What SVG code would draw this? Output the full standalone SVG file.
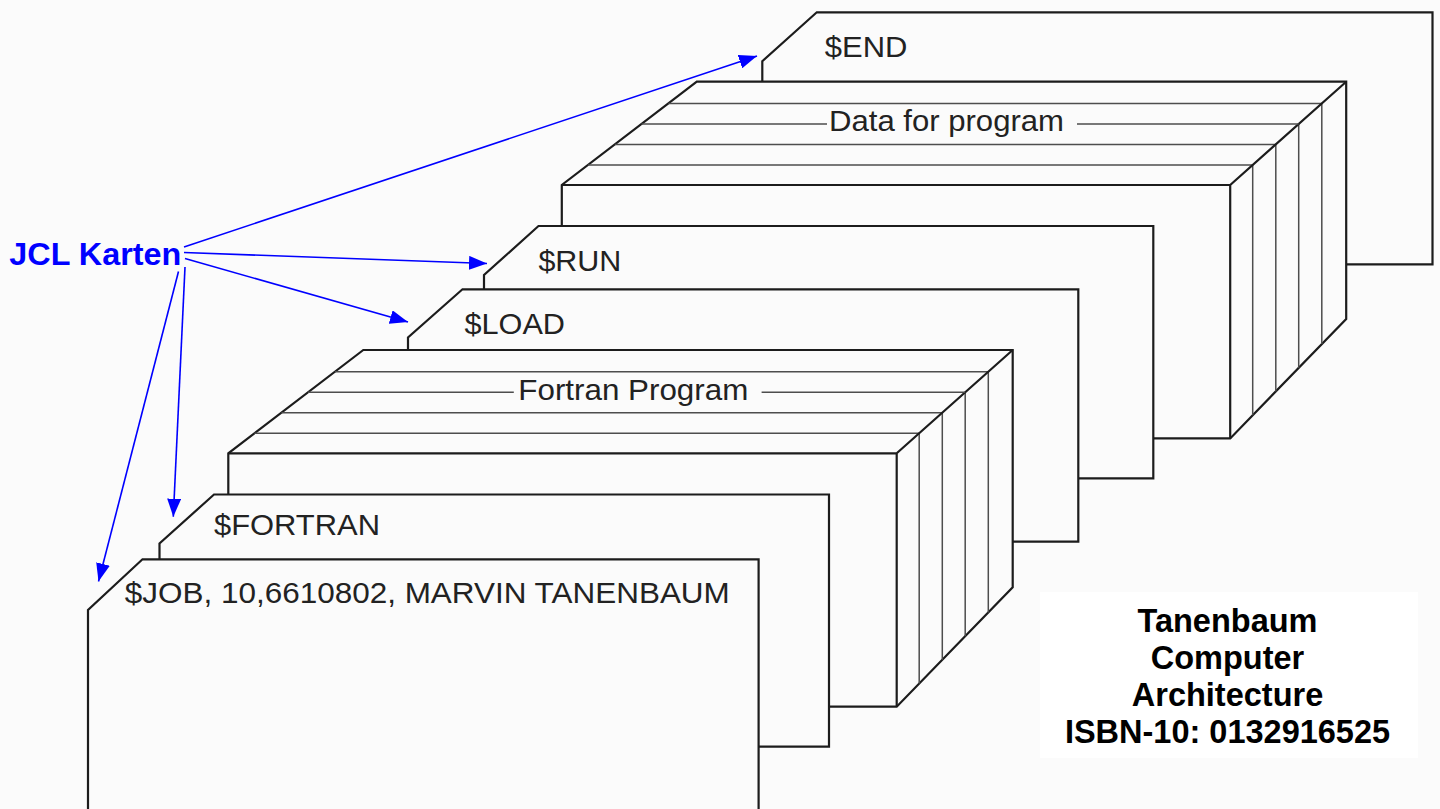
<svg xmlns="http://www.w3.org/2000/svg" width="1440" height="809" viewBox="0 0 1440 809">
  <defs>
    <style>
      .card{fill:#fbfbfb;stroke:#1c1c1c;stroke-width:2.2;stroke-linejoin:miter}
      .edge{fill:none;stroke:#1c1c1c;stroke-width:2.2}
      .ply{fill:none;stroke:#4d4d4d;stroke-width:1.5}
      .lbl{font-family:"Liberation Sans",Arial,sans-serif;font-size:29px;fill:#222}
      .jcl{font-family:"Liberation Sans",Arial,sans-serif;font-size:32px;font-weight:bold;fill:#0000ff}
      .book{font-family:"Liberation Sans",Arial,sans-serif;font-size:32.5px;font-weight:bold;fill:#000;text-anchor:middle}
      .arrow{fill:none;stroke:#0000ff;stroke-width:1.6;marker-end:url(#head)}
    </style>
    <marker id="head" viewBox="0 0 18 14" refX="18" refY="7" markerWidth="18" markerHeight="14" markerUnits="userSpaceOnUse" orient="auto">
      <path d="M0,0 L18,7 L0,14 Z" fill="#0000ff"/>
    </marker>
    <!-- a stack of punched cards seen in perspective: front face, top face, right face -->
    <g id="deck">
      <polygon class="card" points="228.3,706.7 228.3,453.3 363.3,350 1012.7,350 1012.7,587.3 896.7,706.7"/>
      <path class="ply" d="M334.9,371.7H988.3 M281.4,412.7H942.3 M254.4,433.3H919.2
                           M988.3,371.7V612.4 M965.2,392.3V636.2 M942.3,412.7V659.8 M919.2,433.3V683.5"/>
      <path class="edge" d="M228.3,453.3H896.7V706.7 M896.7,453.3L1012.7,350"/>
    </g>
  </defs>

  <rect width="1440" height="809" fill="#fbfbfb"/>

  <!-- back to front -->
  <g id="card-end">
    <path class="card" d="M762.3,264.3V61.3L816.8,12.3H1432.5V264.3Z"/>
    <text class="lbl" x="824.8" y="56.7" textLength="82.6" lengthAdjust="spacingAndGlyphs">$END</text>
  </g>

  <g id="deck-data">
    <use href="#deck" transform="translate(333.5,-268.3)"/>
    <path class="ply" d="M641.5,124H827 M1077,124H1298.7"/>
    <text class="lbl" x="829" y="131" textLength="235" lengthAdjust="spacingAndGlyphs">Data for program</text>
  </g>

  <g id="card-run">
    <path class="card" d="M484,478.3V275L538.5,226H1153.3V478.3Z"/>
    <text class="lbl" x="538.4" y="270.7" textLength="83" lengthAdjust="spacingAndGlyphs">$RUN</text>
  </g>

  <g id="card-load">
    <path class="card" d="M408,541.7V337.5L462.5,289.3H1078.3V541.7Z"/>
    <text class="lbl" x="464.5" y="333.5" textLength="100.5" lengthAdjust="spacingAndGlyphs">$LOAD</text>
  </g>

  <g id="deck-fortran">
    <use href="#deck"/>
    <path class="ply" d="M308,392.3H513.8 M761.6,392.3H965.2"/>
    <text class="lbl" x="518.3" y="399.5" textLength="230" lengthAdjust="spacingAndGlyphs">Fortran Program</text>
  </g>

  <g id="card-fortran">
    <path class="card" d="M159.5,746.7V543.5L214,494.5H829V746.7Z"/>
    <text class="lbl" x="214" y="534.5" textLength="166" lengthAdjust="spacingAndGlyphs">$FORTRAN</text>
  </g>

  <g id="card-job">
    <path class="card" d="M88,830V610L142.5,559.3H758.6V830Z"/>
    <text class="lbl" x="124.8" y="603.3" textLength="605" lengthAdjust="spacingAndGlyphs">$JOB, 10,6610802, MARVIN TANENBAUM</text>
  </g>

  <g id="jcl-label">
    <text class="jcl" x="9.3" y="265" textLength="172" lengthAdjust="spacingAndGlyphs">JCL Karten</text>
  </g>

  <g id="connectors">
    <line class="arrow" x1="184" y1="247" x2="757" y2="56"/>
    <line class="arrow" x1="184" y1="252.5" x2="487" y2="263.5"/>
    <line class="arrow" x1="185" y1="258.5" x2="408" y2="322"/>
    <line class="arrow" x1="185" y1="267" x2="173.3" y2="516.7"/>
    <line class="arrow" x1="178.5" y1="271.5" x2="98.5" y2="581.5"/>
  </g>

  <g id="book-ref">
    <rect x="1040" y="592" width="378" height="166" fill="#ffffff"/>
    <text class="book" x="1227.5" y="631.7">Tanenbaum</text>
    <text class="book" x="1227.5" y="669.3">Computer</text>
    <text class="book" x="1227.5" y="706">Architecture</text>
    <text class="book" x="1227.5" y="743.3">ISBN-10: 0132916525</text>
  </g>
</svg>
